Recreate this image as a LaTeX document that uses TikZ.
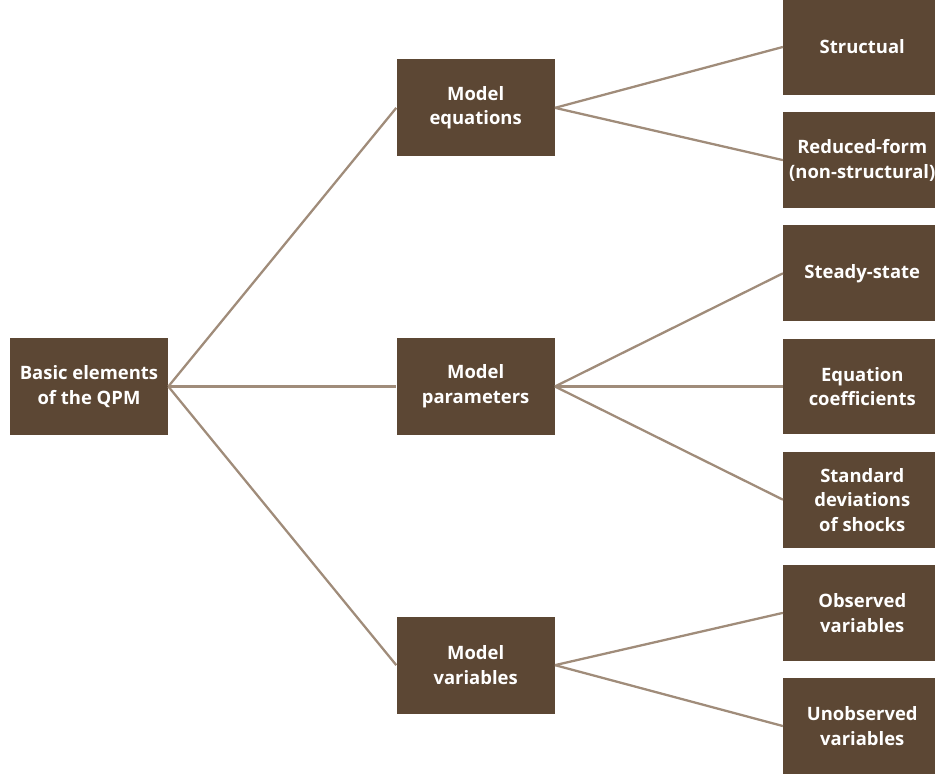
\documentclass[tikz,border=0pt]{standalone}
\usepackage{fontspec}
\setmainfont{Open Sans}
\usetikzlibrary{positioning}

\definecolor{boxbrown}{HTML}{5C4734}
\definecolor{linkbrown}{HTML}{A08C7A}

\begin{document}
\begin{tikzpicture}[x=0.02cm, y=0.02cm, node distance=4.56cm]
  % --- Styles ---
    \tikzset{
      box/.style  = {rectangle,fill=boxbrown,text=white,align=center,
                     minimum width=3.16cm,minimum height=1.94cm,inner sep=2pt,
                     font=\fontsize{10.5}{14}\selectfont\bfseries},
      leaf/.style = {box,minimum height=1.92cm},
      link/.style = {draw=linkbrown,line width=1.3pt}
    }

    \clip (0,0) rectangle (935,-776);

    % --- Root and the three groups ---
    \node[box] (root) at (89,-386.5) {Basic elements\\of the QPM};
    \node[box,right=of root] (pars) {Model\\parameters};
    \node[box,above=3.62cm of pars] (eqs) {Model\\equations};
    \node[box,below=3.62cm of pars] (vars) {Model\\variables};

    % --- Right column (leaves) ---
    \node[leaf,right=of pars] (coef) {Equation\\coefficients};
    \node[leaf,above=0.33cm of coef] (steady) {Steady-state};
    \node[leaf,above=0.33cm of steady] (redf) {Reduced-form\\(non-structural)};
    \node[leaf,above=0.33cm of redf] (struct) {Structual};
    \node[leaf,below=0.33cm of coef] (stdev) {Standard\\deviations\\of shocks};
    \node[leaf,below=0.33cm of stdev] (obs) {Observed\\variables};
    \node[leaf,below=0.33cm of obs] (unobs) {Unobserved\\variables};

    % --- Connectors from the root ---
    \draw[link] (root.east) -- (eqs.west);
    \draw[link] (root.east) -- (pars.west);
    \draw[link] (root.east) -- (vars.west);

    % --- Connectors to the leaves ---
    \draw[link] (eqs.east) -- (struct.west);
    \draw[link] (eqs.east) -- (redf.west);
    \draw[link] (pars.east) -- (steady.west);
    \draw[link] (pars.east) -- (coef.west);
    \draw[link] (pars.east) -- (stdev.west);
    \draw[link] (vars.east) -- (obs.west);
    \draw[link] (vars.east) -- (unobs.west);

\end{tikzpicture}
\end{document}
